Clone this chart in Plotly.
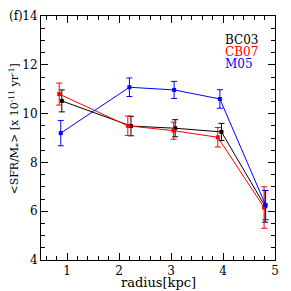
import plotly.graph_objects as go

radius_bc03 = [0.90, 2.23, 3.08, 3.97, 4.81]
sfr_bc03 = [10.52, 9.49, 9.40, 9.25, 6.20]
err_bc03 = [0.45, 0.40, 0.35, 0.35, 0.65]

radius_cb07 = [0.85, 2.17, 3.05, 3.90, 4.79]
sfr_cb07 = [10.80, 9.50, 9.30, 9.03, 6.15]
err_cb07 = [0.45, 0.40, 0.35, 0.40, 0.85]

radius_m05 = [0.88, 2.20, 3.06, 3.94, 4.82]
sfr_m05 = [9.20, 11.08, 10.97, 10.60, 6.25]
err_m05 = [0.52, 0.38, 0.35, 0.38, 0.60]

series = [
    ("BC03", radius_bc03, sfr_bc03, err_bc03, "black"),
    ("CB07", radius_cb07, sfr_cb07, err_cb07, "red"),
    ("M05", radius_m05, sfr_m05, err_m05, "blue"),
]

FONT = "DejaVu Serif"
fig = go.Figure()
for name, x, y, e, c in series:
    fig.add_trace(go.Scatter(
        x=x, y=y, mode="lines+markers", name=name,
        line=dict(color=c, width=1),
        marker=dict(color=c, size=4, symbol="square"),
        error_y=dict(type="data", array=e, color=c, thickness=1, width=3),
    ))

legend_y = [0.90, 0.852, 0.803]
for i, (name, _, _, _, c) in enumerate(series):
    fig.add_annotation(x=0.78, y=legend_y[i], xref="paper", yref="paper",
                       text=name, showarrow=False, xanchor="left", yanchor="middle",
                       borderpad=0, font=dict(size=12, color=c))

fig.add_annotation(x=-0.141, y=1.033, xref="paper", yref="paper", text="(f)",
                   showarrow=False, xanchor="left", yanchor="top", borderpad=0,
                   font=dict(size=12, color="black"))

fig.add_annotation(x=-0.113, y=0.537, xref="paper", yref="paper",
                   text="<SFR/M<sub>*</sub>> [x 10<sup>-11</sup> yr<sup>-1</sup>]",
                   textangle=-90, showarrow=False, xanchor="center", yanchor="middle",
                   borderpad=0, font=dict(size=11, color="black"))

fig.add_annotation(x=0.5, y=-0.094, xref="paper", yref="paper", text="radius[kpc]",
                   showarrow=False, xanchor="center", yanchor="middle", borderpad=0,
                   font=dict(size=13, color="black"))

axis_common = dict(
    showgrid=False, zeroline=False, showline=True, linecolor="black", linewidth=1,
    mirror="ticks", ticks="inside", ticklen=7, tickcolor="black", automargin=False,
    tickfont=dict(size=12, color="black"),
)
fig.update_xaxes(range=[0.5, 5], tickvals=[1, 2, 3, 4, 5],
                 minor=dict(dtick=0.2, ticks="inside", ticklen=4, tickcolor="black"),
                 **axis_common)
fig.update_yaxes(range=[4, 14], tickvals=[4, 6, 8, 10, 12, 14],
                 minor=dict(dtick=0.5, ticks="inside", ticklen=4, tickcolor="black"),
                 **axis_common)

fig.update_layout(
    width=283, height=283, showlegend=False,
    font=dict(family=FONT, size=12, color="black"),
    margin=dict(l=33, r=16, t=8, b=31),
    plot_bgcolor="white", paper_bgcolor="white",
)
fig.write_html("out.html")
